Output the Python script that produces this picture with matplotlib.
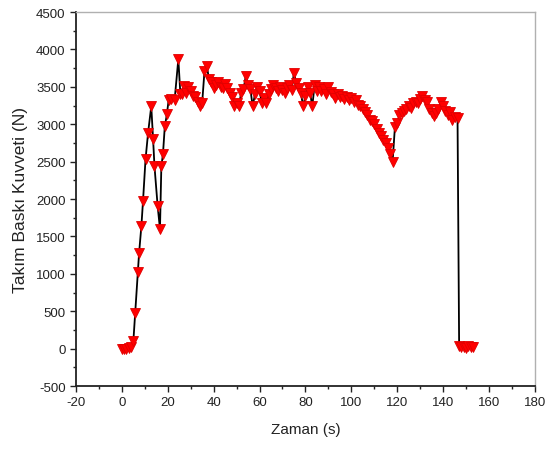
import matplotlib
matplotlib.use("Agg")
import matplotlib.pyplot as plt
from matplotlib.ticker import MultipleLocator

plt.rcParams['font.family'] = ['Liberation Sans', 'DejaVu Sans']
plt.rcParams['axes.unicode_minus'] = False

# Zaman (s) - time samples
zaman = [0, 1, 2, 3, 4, 5, 5.8, 7, 7.5, 8.5, 9.2, 10.3, 11.4, 12.8, 13.6, 14.2,
         15.6, 16.6, 17.2, 17.9, 18.7, 19.6, 20.4, 21.5, 23, 24.6, 25.5,
         26, 27, 28, 29, 30, 31, 32, 33, 34, 35, 36, 37, 38, 39, 40,
         41, 42, 43, 44, 45, 46, 47, 48, 49, 50, 51, 52, 53, 54, 55, 56, 57, 58, 59, 60,
         61, 62, 63, 64, 65, 66, 67, 68, 69, 70, 71, 72, 73, 74, 75, 76, 77, 78, 79, 80,
         81, 82, 83, 84, 85, 86, 87, 88, 89, 90, 91, 92, 93, 94, 95, 96, 97, 98, 99, 100,
         101, 102, 103, 104, 105, 106, 107, 108, 109, 110, 111, 112, 113, 114, 115, 116,
         117, 118, 119, 120, 121, 122, 123, 124, 125, 126, 127, 128, 129, 130, 131, 132,
         133, 134, 135, 136, 137, 138, 139, 140, 141, 142, 143, 144, 145, 146.3,
         147, 148, 149, 150, 151, 152, 153]

# Takim baski kuvveti (N)
kuvvet = [0, -10, 0, 10, 20, 100, 480, 1030, 1280, 1640, 1970, 2530, 2880, 3240, 2800, 2440,
          1900, 1600, 2440, 2600, 2970, 3130, 3330, 3340, 3330, 3870, 3400,
          3400, 3510, 3420, 3500, 3440, 3380, 3360, 3300, 3240, 3290, 3710, 3780, 3600, 3560, 3490,
          3520, 3560, 3500, 3480, 3540, 3490, 3420, 3360, 3240, 3290, 3250, 3420, 3470, 3640, 3530,
          3470, 3240, 3400, 3500, 3440,
          3290, 3350, 3290, 3400, 3470, 3530, 3480, 3440, 3500, 3460, 3420, 3480, 3530, 3460, 3690,
          3550, 3480, 3420, 3240, 3380,
          3500, 3420, 3240, 3530, 3450, 3500, 3440, 3470, 3400, 3500, 3430, 3400, 3350, 3400, 3360,
          3380, 3340, 3360, 3330, 3350,
          3300, 3330, 3260, 3240, 3200, 3160, 3120, 3060, 3040, 3000, 2930, 2880, 2840, 2790, 2750,
          2680, 2600, 2500, 2960, 3020, 3120, 3150, 3180, 3200, 3240, 3220, 3280, 3300, 3290, 3340,
          3380, 3330, 3300, 3200, 3150, 3110, 3150, 3200, 3300, 3250, 3180, 3120, 3160, 3050, 3100, 3080,
          30, 20, 25, 10, 30, 20, 15]

fig = plt.figure(figsize=(5.48, 4.52), dpi=100)
ax = fig.add_axes([0.1387, 0.1438, 0.8373, 0.8274])

ax.plot(zaman, kuvvet, color='black', linewidth=1.3, zorder=2)
ax.plot(zaman, kuvvet, linestyle='none', marker='v', markersize=7.5,
        markerfacecolor='#ff0000', markeredgecolor='#e00000', markeredgewidth=0.6, zorder=3)

ax.set_xlim(-20, 180)
ax.set_ylim(-500, 4500)
ax.xaxis.set_major_locator(MultipleLocator(20))
ax.xaxis.set_minor_locator(MultipleLocator(10))
ax.yaxis.set_major_locator(MultipleLocator(500))
ax.yaxis.set_minor_locator(MultipleLocator(250))

ax.tick_params(which='major', direction='out', length=4, width=1, labelsize=9.5, colors='#222222')
ax.tick_params(which='minor', direction='out', length=2.5, width=1, colors='#222222')

for s in ['left', 'bottom']:
    ax.spines[s].set_linewidth(1.3)
    ax.spines[s].set_color('#222222')
for s in ['top', 'right']:
    ax.spines[s].set_linewidth(1)
    ax.spines[s].set_color('#b0b0b0')

ax.set_xlabel('Zaman (s)', fontsize=11, color='#222222', labelpad=10)
ax.set_ylabel('Takım Baskı Kuvveti (N)', fontsize=12.5, color='#222222', labelpad=6)

fig.savefig('out.png', dpi=100)
